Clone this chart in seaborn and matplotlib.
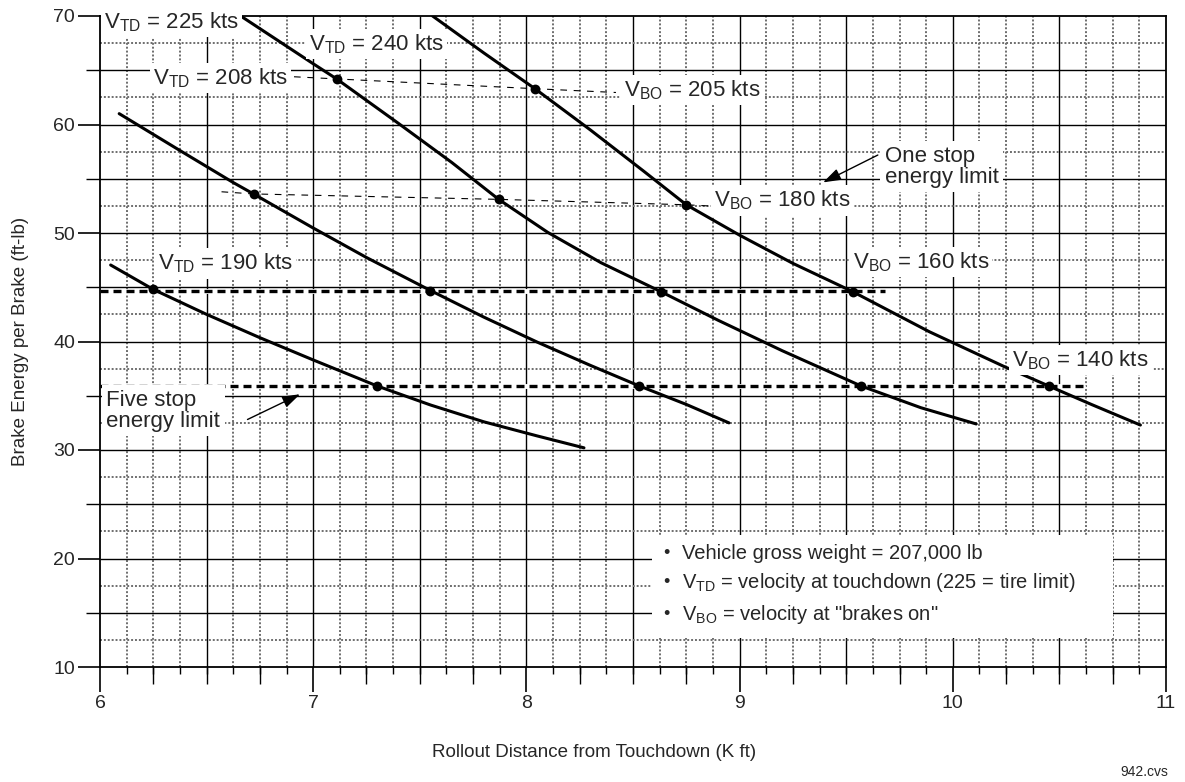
import numpy as np
import pandas as pd
import matplotlib
matplotlib.use('Agg')
import matplotlib.pyplot as plt
from matplotlib.ticker import MultipleLocator
from matplotlib.patches import Rectangle
import seaborn as sns

# curves, one per touchdown speed
td190_x = [6.05, 6.25, 6.50, 6.75, 7.00, 7.30, 7.55, 7.80, 8.05, 8.27]
td190_y = [47.05, 44.8, 42.5, 40.35, 38.3, 35.9, 34.15, 32.6, 31.3, 30.2]
td208_x = [6.09, 6.375, 6.625, 6.72, 7.00, 7.25, 7.55, 7.80, 8.05, 8.30, 8.53, 8.75, 8.95]
td208_y = [61.0, 57.6, 54.65, 53.6, 50.46, 47.74, 44.7, 42.25, 39.95, 37.8, 35.9, 34.2, 32.5]
td225_x = [6.66, 7.00, 7.11, 7.40, 7.65, 7.87, 8.10, 8.35, 8.63, 8.90, 9.20, 9.57, 9.85, 10.11]
td225_y = [70.0, 65.6, 64.2, 60.1, 56.5, 53.1, 50.06, 47.26, 44.6, 41.95, 39.15, 35.9, 33.9, 32.4]
td240_x = [7.56, 7.80, 8.04, 8.30, 8.55, 8.75, 9.00, 9.25, 9.53, 9.89, 10.24, 10.45, 10.65, 10.88]
td240_y = [70.0, 66.6, 63.3, 59.5, 55.7, 52.6, 49.8, 47.2, 44.6, 40.9, 37.7, 35.9, 34.2, 32.3]

# brakes-on points
bo_x = [7.11, 8.04, 6.72, 7.87, 8.75, 6.25, 7.55, 8.63, 9.53, 7.30, 8.53, 9.57, 10.45]
bo_y = [64.2, 63.3, 53.6, 53.1, 52.6, 44.8, 44.7, 44.6, 44.6, 35.9, 35.9, 35.9, 35.9]

# thin dashed connectors
bo205_x = [6.91, 7.11, 8.04, 8.42]
bo205_y = [64.4, 64.2, 63.3, 62.95]
bo180_x = [6.57, 6.72, 7.87, 8.75, 8.90]
bo180_y = [53.8, 53.6, 53.1, 52.6, 52.45]

# energy limits (heavy dashed)
limit_x = [[6.0, 9.68], [6.0, 10.61]]
limit_y = [44.7, 35.9]

curves = pd.concat([
    pd.DataFrame({'x': td190_x, 'y': td190_y, 'curve': 190}),
    pd.DataFrame({'x': td208_x, 'y': td208_y, 'curve': 208}),
    pd.DataFrame({'x': td225_x, 'y': td225_y, 'curve': 225}),
    pd.DataFrame({'x': td240_x, 'y': td240_y, 'curve': 240}),
])

sns.set_theme(style='white')
plt.rcParams['font.family'] = ['Liberation Sans', 'DejaVu Sans']
plt.rcParams['mathtext.fontset'] = 'custom'
plt.rcParams['mathtext.rm'] = 'Liberation Sans'
plt.rcParams['mathtext.it'] = 'Liberation Sans'
plt.rcParams['mathtext.default'] = 'regular'

fig = plt.figure(figsize=(11.85, 7.82), dpi=100)
ax = fig.add_axes([100/1185, 1-667/782, 1066/1185, 651/782])
ax.set_xlim(6, 11)
ax.set_ylim(10, 70)

# chart paper grid
gx = np.arange(6.125, 11, 0.125)
solid_x = gx[np.isclose(gx * 2, np.round(gx * 2))]
dot_x = gx[~np.isclose(gx * 2, np.round(gx * 2))]
ax.vlines(dot_x, 10, 70, colors='#6e6e6e', lw=1.4, linestyles=(0, (1, 1)), zorder=1)
ax.vlines(solid_x, 10, 70, colors='black', lw=1.0, zorder=1)
gy = np.arange(12.5, 70, 2.5)
solid_y = gy[np.isclose(gy % 5, 0)]
dot_y = gy[~np.isclose(gy % 5, 0)]
ax.hlines(dot_y, 6, 11, colors='#6e6e6e', lw=1.4, linestyles=(0, (1, 1)), zorder=1)
ax.hlines(solid_y, 6, 11, colors='black', lw=1.0, zorder=1)

# energy limit lines
for lx, ly in zip(limit_x, limit_y):
    ax.plot(lx, [ly, ly], color='white', lw=3.5, zorder=2)
    ax.plot(lx, [ly, ly], color='black', lw=2.4, linestyle=(0, (2.4, 1.5)), zorder=2)

ax.plot(bo205_x, bo205_y, color='black', lw=0.8, linestyle=(0, (6, 6)), zorder=2)
ax.plot(bo180_x, bo180_y, color='black', lw=0.8, linestyle=(0, (6, 6)), zorder=2)

sns.lineplot(data=curves, x='x', y='y', units='curve', estimator=None, sort=False,
             color='black', lw=2.2, ax=ax, zorder=2.2)
sns.scatterplot(x=bo_x, y=bo_y, color='black', s=50, linewidth=0, ax=ax, zorder=2.4)

box = dict(boxstyle='square,pad=0.15', fc='white', ec='none')
fs = 16
labels = [
    (6.02, 69.45, r'V$_{TD}$ = 225 kts'),
    (6.98, 67.4, r'V$_{TD}$ = 240 kts'),
    (6.25, 64.3, r'V$_{TD}$ = 208 kts'),
    (8.46, 63.2, r'V$_{BO}$ = 205 kts'),
    (8.88, 53.0, r'V$_{BO}$ = 180 kts'),
    (6.27, 47.2, r'V$_{TD}$ = 190 kts'),
    (9.53, 47.3, r'V$_{BO}$ = 160 kts'),
    (10.28, 38.3, r'V$_{BO}$ = 140 kts'),
]
for x, y, s in labels:
    ax.text(x, y, s, fontsize=fs, ha='left', va='center', bbox=box, zorder=3)

ax.text(9.68, 56.1, 'One stop\nenergy limit', fontsize=fs, ha='left', va='center',
        linespacing=1.0, bbox=dict(boxstyle='square,pad=0.2', fc='white', ec='none'), zorder=3)
ax.text(6.03, 33.6, 'Five stop\nenergy limit', fontsize=fs, ha='left', va='center',
        linespacing=1.0, bbox=dict(boxstyle='square,pad=0.2', fc='white', ec='none'), zorder=3)

arrow = dict(arrowstyle='-|>,head_length=0.9,head_width=0.3', color='black', lw=1.0)
ax.annotate('', xy=(9.38, 54.55), xytext=(9.66, 57.3), arrowprops=arrow, zorder=4)
ax.annotate('', xy=(6.95, 35.25), xytext=(6.68, 32.7), arrowprops=arrow, zorder=4)

# notes box
ax.add_patch(Rectangle((8.59, 12.7), 2.16, 9.5, fc='white', ec='none', zorder=3))
notes = [
    (20.5, 'Vehicle gross weight = 207,000 lb'),
    (17.75, r'V$_{TD}$ = velocity at touchdown (225 = tire limit)'),
    (14.8, r'V$_{BO}$ = velocity at "brakes on"'),
]
for y, s in notes:
    ax.text(8.64, y, '\u2022', fontsize=13, ha='left', va='center', zorder=4)
    ax.text(8.73, y, s, fontsize=14.5, ha='left', va='center', zorder=4)

# axes, ticks
for sp in ax.spines.values():
    sp.set_visible(True)
    sp.set_color('black')
    sp.set_linewidth(1.3)
    sp.set_zorder(2.5)

ax.xaxis.set_major_locator(MultipleLocator(1))
ax.xaxis.set_minor_locator(MultipleLocator(0.125))
ax.yaxis.set_major_locator(MultipleLocator(10))
ax.yaxis.set_minor_locator(MultipleLocator(5))
ax.tick_params(axis='x', which='major', direction='out', length=18, width=1.2,
               labelsize=14, pad=2, color='black', bottom=True)
ax.tick_params(axis='x', which='minor', direction='out', length=5, width=1.0,
               color='black', bottom=True)
ax.tick_params(axis='y', which='major', direction='out', length=16, width=1.2,
               labelsize=14, pad=2, color='black', left=True)
ax.tick_params(axis='y', which='minor', direction='out', length=10, width=1.0,
               color='black', left=True)

sec = ax.secondary_xaxis('bottom')
sec.set_xticks(np.arange(6.25, 11, 0.5), labels=[])
sec.tick_params(axis='x', direction='out', length=12, width=1.0, color='black')
sec.spines['bottom'].set_visible(False)
sec2 = ax.secondary_xaxis('bottom')
sec2.set_xticks(np.arange(6.5, 11, 1.0), labels=[])
sec2.tick_params(axis='x', direction='out', length=12, width=1.0, color='black')
sec2.spines['bottom'].set_visible(False)

ax.set_xlabel('Rollout Distance from Touchdown (K ft)', fontsize=13.5)
ax.set_ylabel('Brake Energy per Brake (ft-lb)', fontsize=13.5)
ax.xaxis.set_label_coords((594 - 100) / 1066, -(744 - 667) / 651)
ax.yaxis.set_label_coords(-(100 - 29) / 1066, 0.5)

fig.text(1168 / 1185, 0.004, '942.cvs', fontsize=10, ha='right', va='bottom')

fig.savefig('out.png', dpi=100)
